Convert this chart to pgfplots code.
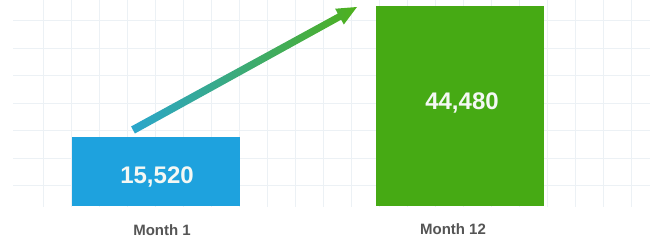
\documentclass[border=0pt]{standalone}
\usepackage{fontspec}
\setmainfont{Liberation Sans}
\usepackage{pgfplots}
\pgfplotsset{compat=1.18}
\definecolor{barblue}{RGB}{30,162,222}
\definecolor{bargreen}{RGB}{70,170,20}
\definecolor{arrowtail}{RGB}{42,166,205}
\definecolor{arrowhead}{RGB}{78,176,28}
\definecolor{gridc}{RGB}{236,241,245}
\definecolor{labelc}{RGB}{85,85,85}
\definecolor{valc}{RGB}{244,248,244}
\begin{document}
\begin{tikzpicture}
\useasboundingbox (0,0) rectangle (331.5pt,122.5pt);
% background grid (pixel scope: x right, y down)
\begin{scope}[x=0.5pt,y=-0.5pt,shift={(0,122.5pt)}]
  \foreach \x in {43,71,...,631} \draw[gridc,line width=0.5pt] (\x,0) -- (\x,207);
  \foreach \y in {21,48.5,...,187} \draw[gridc,line width=0.5pt] (13,\y) -- (650,\y);
\end{scope}
\begin{axis}[
  at={(0,0)}, anchor=south west,
  scale only axis, width=331.5pt, height=122.5pt,
  axis lines=none, xtick=\empty, ytick=\empty,
  xmin=-0.5132, xmax=1.6678, ymin=-8541, ymax=45812,
  clip=false,
]
\addplot[ybar, bar width=84pt, bar shift=0pt, fill=barblue, draw=none] coordinates {(0,15520)};
\addplot[ybar, bar width=84pt, bar shift=0pt, fill=bargreen, draw=none] coordinates {(1,44480)};
\end{axis}
\begin{scope}[x=0.5pt,y=-0.5pt,shift={(0,122.5pt)}]
  \shade[left color=arrowtail, right color=arrowhead]
    (134.92,133.51) -- (341.16,19.70) -- (343.80,24.52) -- (357,7)
    -- (335.14,8.74) -- (337.79,13.56) -- (131.08,126.49) -- cycle;
  \node[font=\bfseries\fontsize{12}{14}\selectfont, text=valc] at (157,177) {15,520};
  \node[font=\bfseries\fontsize{12}{14}\selectfont, text=valc] at (462,103) {44,480};
  \node[font=\bfseries\fontsize{7.5}{9}\selectfont, text=labelc] at (162,230) {Month 1};
  \node[font=\bfseries\fontsize{7.5}{9}\selectfont, text=labelc] at (453,229) {Month 12};
\end{scope}
\end{tikzpicture}
\end{document}
